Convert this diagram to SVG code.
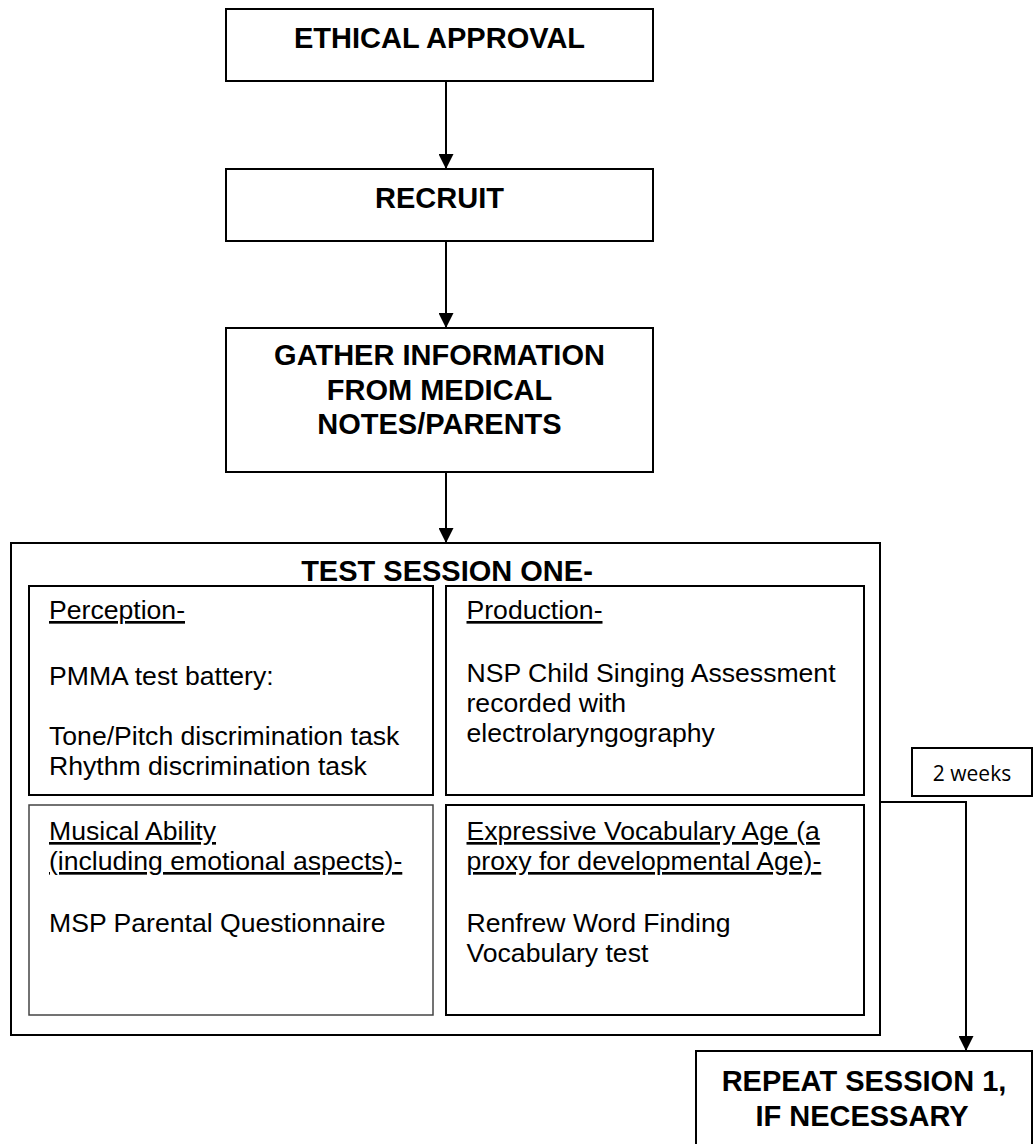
<svg xmlns="http://www.w3.org/2000/svg" width="1033" height="1144" viewBox="0 0 1033 1144">
<defs>
<style>
.box{fill:#fff;stroke:#000;stroke-width:2}
.thin{fill:#fff;stroke:#444;stroke-width:1.5}
.h{font-family:"Liberation Sans",Arial,sans-serif;font-weight:bold;font-size:29px;fill:#000;text-anchor:middle}
.t{font-family:"Liberation Sans",Arial,sans-serif;font-size:26.6px;fill:#000}
.u{text-decoration:underline}
.s{font-family:"Open Sans","Noto Sans",sans-serif;font-size:21px;fill:#000;text-anchor:middle}
.c{fill:none;stroke:#000;stroke-width:2}
</style>
<marker id="ah" viewBox="0 0 15 15" refX="15" refY="7.5" markerWidth="15" markerHeight="15" markerUnits="userSpaceOnUse" orient="auto">
<path d="M0,0 L15,7.5 L0,15 z" fill="#000"/>
</marker>
</defs>
<rect width="1033" height="1144" fill="#fff"/>
<g id="ethical">
<rect class="box" x="226" y="9" width="427" height="72"/>
<text class="h" x="439.5" y="48">ETHICAL APPROVAL</text>
</g>
<g id="recruit">
<rect class="box" x="226" y="169" width="427" height="72"/>
<text class="h" x="439.5" y="208">RECRUIT</text>
</g>
<g id="gather">
<rect class="box" x="226" y="328" width="427" height="144"/>
<text class="h" x="439.5" y="365">GATHER INFORMATION</text>
<text class="h" x="439.5" y="399.5">FROM MEDICAL</text>
<text class="h" x="439.5" y="434">NOTES/PARENTS</text>
</g>
<g id="session">
<rect class="box" x="11" y="543" width="869" height="492"/>
<text class="h" x="447" y="580.5">TEST SESSION ONE-</text>
</g>
<g id="perception">
<rect class="box" x="29" y="586" width="404" height="209"/>
<text class="t u" x="49" y="619">Perception-</text>
<text class="t" x="49" y="685">PMMA test battery:</text>
<text class="t" x="49" y="744.5">Tone/Pitch discrimination task</text>
<text class="t" x="49" y="774.5">Rhythm discrimination task</text>
</g>
<g id="production">
<rect class="box" x="446" y="586" width="418" height="209"/>
<text class="t u" x="466.5" y="619">Production-</text>
<text class="t" x="466.5" y="681.5">NSP Child Singing Assessment</text>
<text class="t" x="466.5" y="711.5">recorded with</text>
<text class="t" x="466.5" y="741.5">electrolaryngography</text>
</g>
<g id="musical">
<rect class="thin" x="29" y="805" width="404" height="210"/>
<text class="t u" x="49" y="840">Musical Ability</text>
<text class="t u" x="49" y="870">(including emotional aspects)-</text>
<text class="t" x="49" y="931.5">MSP Parental Questionnaire</text>
</g>
<g id="expressive">
<rect class="box" x="446" y="805" width="418" height="210"/>
<text class="t u" x="466.5" y="840">Expressive Vocabulary Age (a</text>
<text class="t u" x="466.5" y="870">proxy for developmental Age)-</text>
<text class="t" x="466.5" y="931.5">Renfrew Word Finding</text>
<text class="t" x="466.5" y="961.5">Vocabulary test</text>
</g>
<g id="weeks">
<rect class="box" x="912" y="748" width="120" height="48"/>
<text class="s" x="972" y="781">2 weeks</text>
</g>
<g id="repeat">
<rect class="box" x="696" y="1051" width="336" height="110"/>
<text class="h" x="864" y="1091">REPEAT SESSION 1,</text>
<text class="h" x="862" y="1126">IF NECESSARY</text>
</g>
<g id="connectors">
<line class="c" x1="446" y1="81" x2="446" y2="169" marker-end="url(#ah)"/>
<line class="c" x1="446" y1="241" x2="446" y2="328" marker-end="url(#ah)"/>
<line class="c" x1="446" y1="472" x2="446" y2="543" marker-end="url(#ah)"/>
<path class="c" d="M880,802 H966 V1051" marker-end="url(#ah)"/>
</g>
</svg>
